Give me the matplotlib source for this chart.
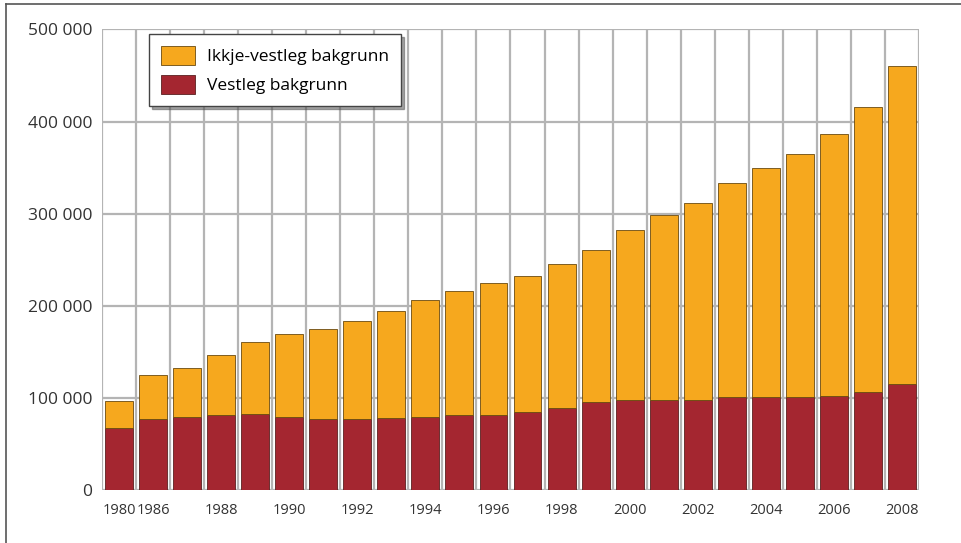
import matplotlib.pyplot as plt
from matplotlib.lines import Line2D
import matplotlib.transforms as mtransforms

# data
years = ['1980', '1986', '1987', '1988', '1989', '1990', '1991', '1992',
         '1993', '1994', '1995', '1996', '1997', '1998', '1999', '2000',
         '2001', '2002', '2003', '2004', '2005', '2006', '2007', '2008']
vestleg = [67500, 77000, 79500, 81300, 82800, 79500, 77400, 77400,
           78000, 79500, 81000, 81700, 84600, 89300, 95400, 97300,
           97300, 98000, 100500, 100900, 100900, 102300, 106600, 114600]
totalt = [96500, 124400, 132000, 147000, 161000, 169000, 175000, 183600,
          193800, 206000, 215800, 224500, 232400, 245000, 261000, 282700,
          298000, 311600, 333300, 349200, 365000, 386800, 415700, 460200]
ikkje_vestleg = [t - v for t, v in zip(totalt, vestleg)]

year_ticks = ['1980', '1986', '1988', '1990', '1992', '1994', '1996', '1998',
              '2000', '2002', '2004', '2006', '2008']
y_ticks = [0, 100000, 200000, 300000, 400000, 500000]

ORANGE = '#f6a81e'
RED = '#a42630'
GRID = '#b4b4b4'

plt.rcParams['font.family'] = ['Open Sans', 'DejaVu Sans']

fig = plt.figure(figsize=(9.61, 5.43), dpi=100)
ax = fig.add_axes([0.1061, 0.0976, 0.8502, 0.8483])

x = list(range(len(years)))
ax.bar(x, vestleg, width=0.82, color=RED, edgecolor='#5a2020', linewidth=0.6,
       label='Vestleg bakgrunn', zorder=3)
ax.bar(x, ikkje_vestleg, bottom=vestleg, width=0.82, color=ORANGE,
       edgecolor='#6a4a10', linewidth=0.6, label='Ikkje-vestleg bakgrunn', zorder=3)

ax.set_xlim(-0.5, len(years) - 0.5)
ax.set_ylim(0, 500000)

# grid: horizontal at ticks, vertical between bars
for yv in y_ticks:
    ax.axhline(yv, color=GRID, lw=1.6, zorder=1)
for i in range(len(years) + 1):
    ax.axvline(i - 0.5, color=GRID, lw=1.6, zorder=1)

for s in ax.spines.values():
    s.set_visible(False)

ax.set_yticks(y_ticks)
ax.set_yticklabels([f'{v:,}'.replace(',', ' ') for v in y_ticks], fontsize=12.5,
                   color='#333333')
off = mtransforms.ScaledTranslation(0, 5 / 100, fig.dpi_scale_trans)
for lab in ax.get_yticklabels()[:-1]:
    lab.set_transform(lab.get_transform() + off)

ax.set_xticks([years.index(y) for y in year_ticks])
ax.set_xticklabels(year_ticks, fontsize=10.5, color='#333333')
ax.tick_params(axis='both', length=0)
ax.tick_params(axis='y', pad=7)
ax.tick_params(axis='x', pad=9)

handles, labels = ax.get_legend_handles_labels()
leg = ax.legend(handles[::-1], labels[::-1], loc='upper left',
                bbox_to_anchor=(0.0575, 0.99), borderaxespad=0, fontsize=12.5,
                fancybox=False, shadow=True, framealpha=1, edgecolor='#444444',
                handlelength=1.95, handleheight=1.3, labelspacing=0.55,
                handletextpad=0.7, borderpad=0.7)
leg.get_frame().set_linewidth(1.0)
leg.set_zorder(5)

# outer frame (left and top)
fig.add_artist(Line2D([6 / 961, 6 / 961], [0, 1 - 4 / 543], color='#555555', lw=1.2))
fig.add_artist(Line2D([6 / 961, 1], [1 - 4 / 543, 1 - 4 / 543], color='#555555', lw=1.2))

fig.savefig('out.png', dpi=100)
